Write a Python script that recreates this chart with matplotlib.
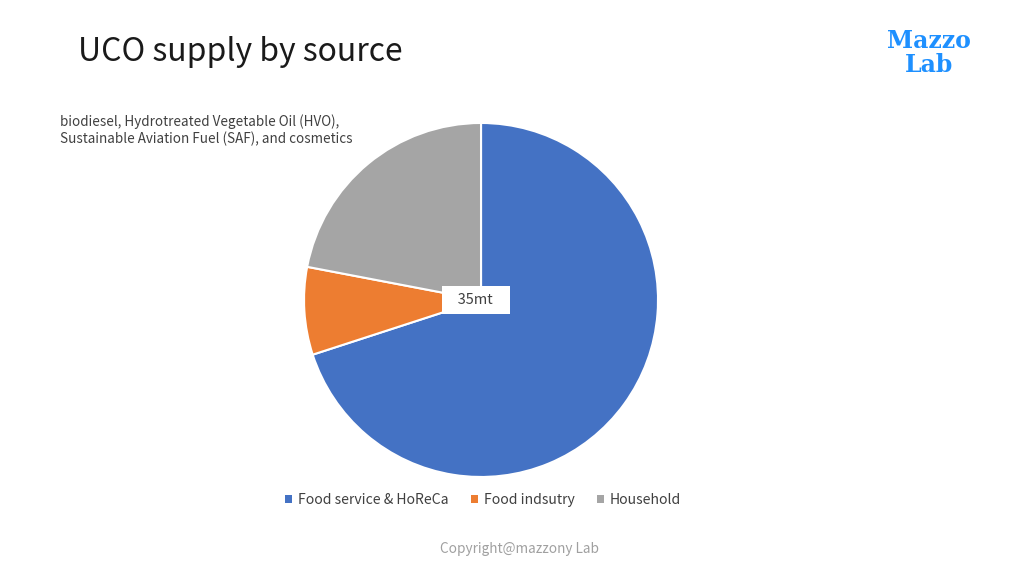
import matplotlib.pyplot as plt
from matplotlib.patches import Patch

plt.rcParams['font.family'] = ['Noto Sans CJK SC', 'DejaVu Sans']

# data
sources = ["Food service & HoReCa", "Food indsutry", "Household"]
shares = [70, 8, 22]
colors = ["#4472C4", "#ED7D31", "#A5A5A5"]
total_label = "35mt"
note = "biodiesel, Hydrotreated Vegetable Oil (HVO),\nSustainable Aviation Fuel (SAF), and cosmetics"

fig = plt.figure(figsize=(10.24, 5.76), dpi=100)
fig.patch.set_facecolor("white")

# pie axes: centre ~ (481, 300) px, radius ~ 177 px
ax = fig.add_axes([0.2969, 0.1719, 0.3457, 0.6146])
ax.pie(shares, colors=colors, startangle=90, counterclock=False,
       wedgeprops=dict(edgecolor="white", linewidth=1.5))
ax.set_aspect("equal")
ax.set_xlim(-1, 1)
ax.set_ylim(-1, 1)

ax.text(-0.03, 0.0, "   " + total_label + "   ", ha="center", va="center", fontsize=10.5,
        color="#404040",
        bbox=dict(boxstyle="square,pad=0.45", facecolor="white", edgecolor="none"))

fig.text(78 / 1024, 1 - 52 / 576, "UCO supply by source", fontsize=23, color="#1a1a1a",
         ha="left", va="center")
fig.text(60 / 1024, 1 - 130 / 576, note, fontsize=9.7, color="#404040",
         ha="left", va="center", linespacing=1.2)

fig.text(929 / 1024, 1 - 53 / 576, "Mazzo\nLab", fontsize=17, fontweight="bold",
         family="DejaVu Serif", color="#1E90FF", ha="center", va="center", linespacing=1.05)

handles = [Patch(facecolor=c, edgecolor="none") for c in colors]
fig.legend(handles, sources, loc="center", bbox_to_anchor=(483 / 1024, 1 - 500 / 576),
           ncol=3, frameon=False, fontsize=10.1, handlelength=0.5, handleheight=0.5,
           handletextpad=0.4, columnspacing=1.6, labelcolor="#404040")

fig.text(520 / 1024, 1 - 549 / 576, "Copyright@mazzony Lab", fontsize=9.8, color="#A0A0A0",
         ha="center", va="center")

fig.savefig("out.png", dpi=100)
